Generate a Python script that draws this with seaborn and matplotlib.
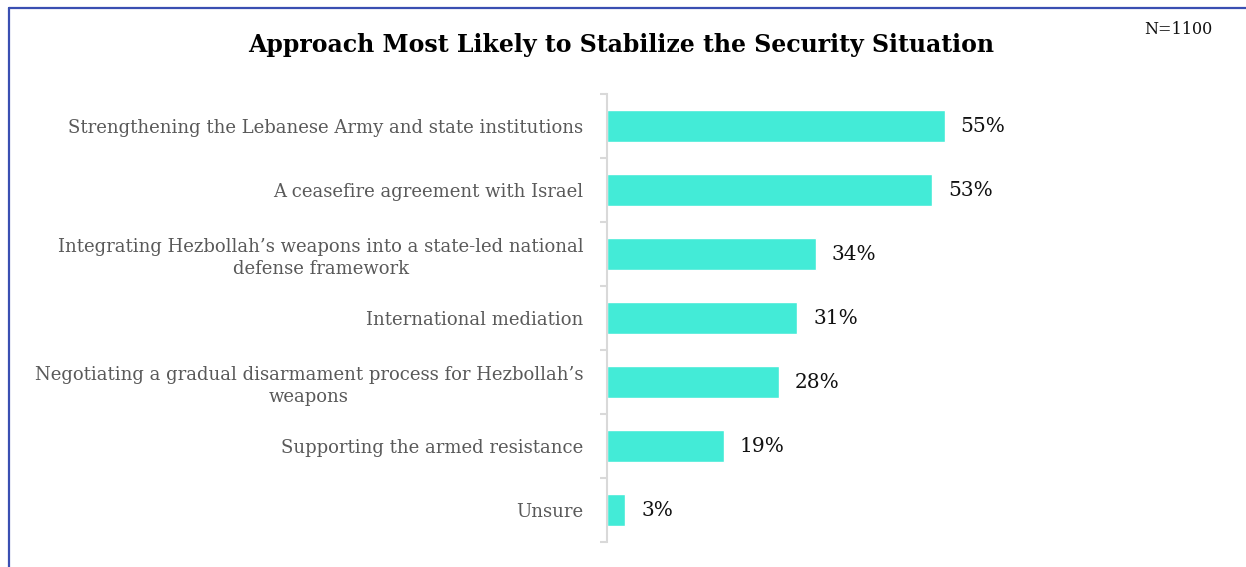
import matplotlib
matplotlib.use("Agg")
import matplotlib.pyplot as plt
import seaborn as sns
import pandas as pd
from matplotlib.lines import Line2D

categories = [
    "Strengthening the Lebanese Army and state institutions",
    "A ceasefire agreement with Israel",
    "Integrating Hezbollah\u2019s weapons into a state-led national\ndefense framework",
    "International mediation",
    "Negotiating a gradual disarmament process for Hezbollah\u2019s\nweapons",
    "Supporting the armed resistance",
    "Unsure",
]
values = [55, 53, 34, 31, 28, 19, 3]
value_labels = ["55%", "53%", "34%", "31%", "28%", "19%", "3%"]

df = pd.DataFrame({"cat": categories, "val": values})

sns.set_theme(style="white")
plt.rcParams["font.family"] = ["DejaVu Serif"]

fig = plt.figure(figsize=(12.46, 5.67), dpi=100)
ax = fig.add_axes([607/1246, 1-542/567, 611/1246, 448/567])

sns.barplot(data=df, x="val", y="cat", orient="h", color="#43EBD7",
            saturation=1, width=0.5, ax=ax)

ax.set_xlim(0, 99.5)
ax.set_ylim(6.5, -0.5)
ax.set_xlabel("")
ax.set_ylabel("")
ax.set_xticks([])

for s in ["top", "right", "bottom"]:
    ax.spines[s].set_visible(False)
ax.spines["left"].set_color("#d9d9d9")
ax.spines["left"].set_linewidth(1.5)

ax.set_yticks(range(len(categories)))
ax.set_yticklabels(categories, fontsize=13, color="#595959",
                   multialignment="center", linespacing=1.3)
ax.tick_params(axis="y", which="major", length=0, pad=17)
ax.set_yticks([i - 0.5 for i in range(len(categories) + 1)], minor=True)
ax.tick_params(axis="y", which="minor", length=5, width=1.5, color="#d9d9d9", left=True)

for i, (v, lab) in enumerate(zip(values, value_labels)):
    ax.text(v + 2.6, i, lab, va="center", ha="left", fontsize=14.5, color="#111111")

fig.text(0.4985, 1-45/567, "Approach Most Likely to Stabilize the Security Situation",
         ha="center", va="center", fontsize=17, fontweight="bold", color="#000000")
fig.text(1178/1246, 1-30/567, "N=1100", ha="center", va="center", fontsize=11.5, color="#111111")

border = "#3a4fb2"
fig.add_artist(Line2D([8.5/1246, 1.0], [1-7.5/567, 1-7.5/567], color=border, lw=1.6,
                      transform=fig.transFigure))
fig.add_artist(Line2D([8.5/1246, 8.5/1246], [0, 1-7.5/567], color=border, lw=1.6,
                      transform=fig.transFigure))

fig.savefig("out.png", dpi=100, facecolor="white")
